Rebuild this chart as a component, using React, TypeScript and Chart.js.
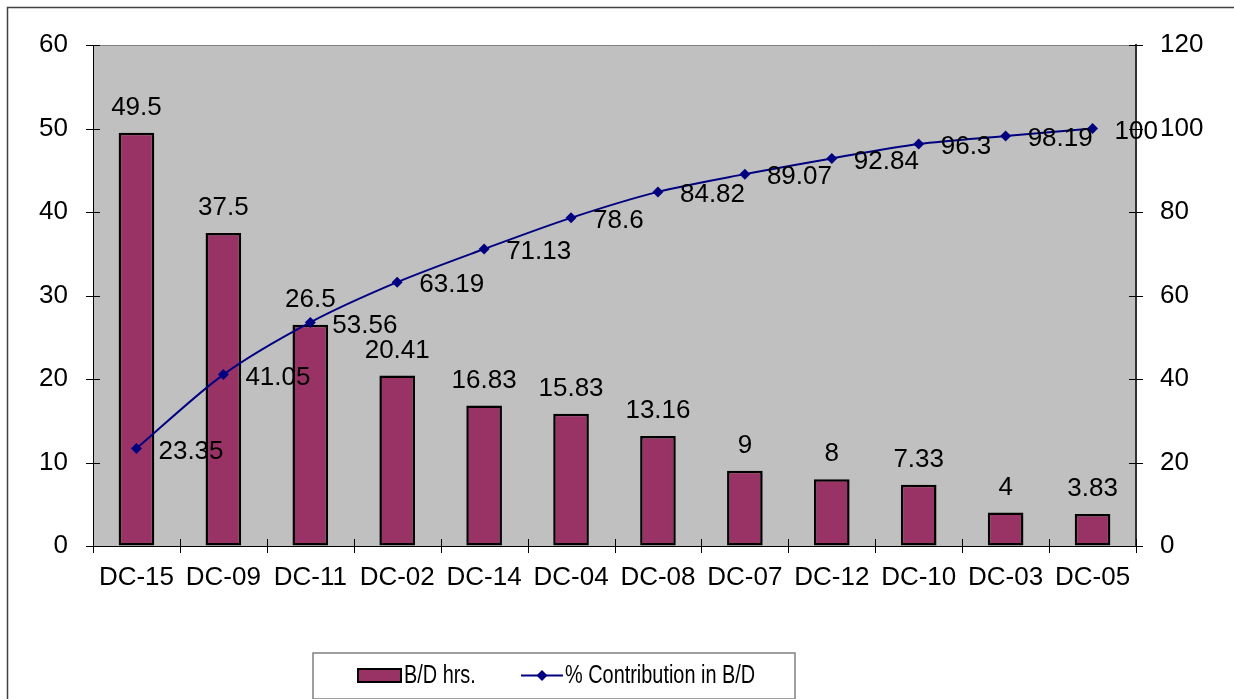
import React, { useEffect, useRef } from "react";
import { Chart, registerables } from "chart.js";

Chart.register(...registerables);

const categories = ["DC-15", "DC-09", "DC-11", "DC-02", "DC-14", "DC-04", "DC-08", "DC-07", "DC-12", "DC-10", "DC-03", "DC-05"];
const bdHours = [49.5, 37.5, 26.5, 20.41, 16.83, 15.83, 13.16, 9, 8, 7.33, 4, 3.83];
const cumulativePct = [23.35, 41.05, 53.56, 63.19, 71.13, 78.6, 84.82, 89.07, 92.84, 96.3, 98.19, 100];
const leftTicks = [0, 10, 20, 30, 40, 50, 60];
const rightTicks = [0, 20, 40, 60, 80, 100, 120];

const FONT = '"Liberation Sans", Arial, Helvetica, sans-serif';
const FONT_SIZE = 26;
const BAR_COLOR = "#993366";
const LINE_COLOR = "#000080";
const PLOT_BG = "#C0C0C0";

// Background, outer frame and plot-area fill
const framePlugin = {
  id: "frame",
  beforeDraw(chart: any) {
    const { ctx, chartArea: a } = chart;
    ctx.save();
    ctx.fillStyle = "#fff";
    ctx.fillRect(0, 0, chart.width, chart.height);
    ctx.strokeStyle = "#404040";
    ctx.lineWidth = 1.5;
    ctx.strokeRect(7.5, 7.5, chart.width + 10, chart.height + 10);
    ctx.fillStyle = PLOT_BG;
    ctx.fillRect(a.left, a.top, a.right - a.left, a.bottom - a.top);
    ctx.strokeStyle = "#808080";
    ctx.lineWidth = 1;
    ctx.beginPath();
    ctx.moveTo(a.left, a.top + 0.5);
    ctx.lineTo(a.right, a.top + 0.5);
    ctx.stroke();
    ctx.restore();
  },
};

// Cross-style tick marks on all three axes
const tickMarksPlugin = {
  id: "tickMarks",
  afterDraw(chart: any) {
    const { ctx, chartArea: a, scales } = chart;
    const len = 7;
    ctx.save();
    ctx.strokeStyle = "#000";
    ctx.lineWidth = 1;
    ctx.beginPath();
    const n = chart.data.labels.length;
    const step = (a.right - a.left) / n;
    for (let i = 0; i <= n; i++) {
      const px = Math.round(a.left + i * step) + 0.5;
      ctx.moveTo(px, a.bottom - len);
      ctx.lineTo(px, a.bottom + len);
    }
    scales.y.ticks.forEach((_t: any, i: number) => {
      const py = Math.round(scales.y.getPixelForTick(i)) + 0.5;
      ctx.moveTo(a.left - len, py);
      ctx.lineTo(a.left + len, py);
    });
    scales.y1.ticks.forEach((_t: any, i: number) => {
      const py = Math.round(scales.y1.getPixelForTick(i)) + 0.5;
      ctx.moveTo(a.right - len, py);
      ctx.lineTo(a.right + len, py);
    });
    ctx.stroke();
    ctx.restore();
  },
};

// Value labels: above each bar, to the right of each line point
const valueLabelsPlugin = {
  id: "valueLabels",
  afterDraw(chart: any) {
    const { ctx } = chart;
    ctx.save();
    ctx.font = `${FONT_SIZE}px ${FONT}`;
    ctx.fillStyle = "#000";
    ctx.textBaseline = "middle";
    const barMeta = chart.getDatasetMeta(0);
    ctx.textAlign = "center";
    barMeta.data.forEach((el: any, i: number) => {
      ctx.fillText(String(chart.data.datasets[0].data[i]), el.x, el.y - 25);
    });
    const lineMeta = chart.getDatasetMeta(1);
    ctx.textAlign = "left";
    lineMeta.data.forEach((el: any, i: number) => {
      ctx.fillText(String(chart.data.datasets[1].data[i]), el.x + 22, el.y + 3);
    });
    ctx.restore();
  },
};

// Boxed legend below the plot
const boxLegendPlugin = {
  id: "boxLegend",
  afterDraw(chart: any) {
    const { ctx } = chart;
    const ds = chart.data.datasets;
    const top = 653;
    const cy = 675.5;
    ctx.save();
    ctx.fillStyle = "#fff";
    ctx.fillRect(313, top, 482, 46);
    ctx.strokeStyle = "#808080";
    ctx.lineWidth = 1.5;
    ctx.strokeRect(313, top, 482, 46);

    ctx.fillStyle = ds[0].backgroundColor;
    ctx.fillRect(358, 669, 43, 13);
    ctx.strokeStyle = "#000";
    ctx.lineWidth = 2;
    ctx.strokeRect(358, 669, 43, 13);

    ctx.strokeStyle = ds[1].borderColor;
    ctx.lineWidth = 2;
    ctx.beginPath();
    ctx.moveTo(521, cy);
    ctx.lineTo(563, cy);
    ctx.stroke();
    ctx.fillStyle = ds[1].borderColor;
    ctx.beginPath();
    ctx.moveTo(542, cy - 5.5);
    ctx.lineTo(547.5, cy);
    ctx.lineTo(542, cy + 5.5);
    ctx.lineTo(536.5, cy);
    ctx.closePath();
    ctx.fill();

    ctx.fillStyle = "#000";
    ctx.font = `${FONT_SIZE}px ${FONT}`;
    ctx.textBaseline = "middle";
    ctx.textAlign = "left";
    const drawNarrow = (text: string, x: number) => {
      ctx.save();
      ctx.translate(x, cy);
      ctx.scale(0.765, 1);
      ctx.fillText(text, 0, 0);
      ctx.restore();
    };
    drawNarrow(ds[0].label, 404);
    drawNarrow(ds[1].label, 565);
    ctx.restore();
  },
};

export default function App() {
  const canvasRef = useRef<HTMLCanvasElement | null>(null);

  useEffect(() => {
    const canvas = canvasRef.current;
    if (!canvas) return;
    const tickFont = { family: FONT, size: FONT_SIZE };
    const hiddenGrid = { display: true, drawOnChartArea: false, drawTicks: false, color: "rgba(0,0,0,0)" };
    const chart = new Chart(canvas, {
      type: "bar",
      data: {
        labels: categories,
        datasets: [
          {
            type: "bar",
            label: "B/D hrs.",
            data: bdHours,
            backgroundColor: BAR_COLOR,
            borderColor: "#000",
            borderWidth: 2.5,
            borderSkipped: false,
            barPercentage: 0.41,
            categoryPercentage: 1,
            yAxisID: "y",
            order: 1,
          },
          {
            type: "line",
            label: "% Contribution in B/D",
            data: cumulativePct,
            borderColor: LINE_COLOR,
            backgroundColor: LINE_COLOR,
            borderWidth: 2,
            pointStyle: "rectRot",
            pointRadius: 5.5,
            pointBackgroundColor: LINE_COLOR,
            pointBorderColor: LINE_COLOR,
            pointBorderWidth: 0,
            tension: 0.3,
            fill: false,
            yAxisID: "y1",
            order: 0,
          },
        ],
      } as any,
      options: {
        responsive: false,
        animation: false,
        events: [],
        layout: { padding: { top: 45, left: 0, right: 0, bottom: 0 } },
        plugins: {
          legend: { display: false },
          tooltip: { enabled: false },
          title: { display: false },
        },
        scales: {
          x: {
            grid: hiddenGrid,
            border: { display: true, color: "#000", width: 1 },
            ticks: {
              font: tickFont,
              color: "#000",
              padding: 16,
              maxRotation: 0,
              autoSkip: false,
            },
            afterFit(scale: any) {
              scale.height = 153;
            },
          },
          y: {
            position: "left",
            min: 0,
            max: 60,
            afterBuildTicks(scale: any) {
              scale.ticks = leftTicks.map((v) => ({ value: v }));
            },
            grid: hiddenGrid,
            border: { display: true, color: "#000", width: 1 },
            ticks: {
              font: tickFont,
              color: "#000",
              padding: 25,
            },
            afterFit(scale: any) {
              scale.width = 93;
            },
          },
          y1: {
            position: "right",
            min: 0,
            max: 120,
            afterBuildTicks(scale: any) {
              scale.ticks = rightTicks.map((v) => ({ value: v }));
            },
            grid: hiddenGrid,
            border: { display: true, color: "#333", width: 2 },
            ticks: {
              font: tickFont,
              color: "#000",
              padding: 24,
            },
            afterFit(scale: any) {
              scale.width = 98;
            },
          },
        },
      } as any,
      plugins: [framePlugin, tickMarksPlugin, valueLabelsPlugin, boxLegendPlugin],
    });
    return () => chart.destroy();
  }, []);

  return (
    <div style={{ position: "fixed", left: 0, top: 0, width: 1234, height: 699, background: "#fff" }}>
      <canvas ref={canvasRef} width={1234} height={699} style={{ display: "block" }} />
    </div>
  );
}
